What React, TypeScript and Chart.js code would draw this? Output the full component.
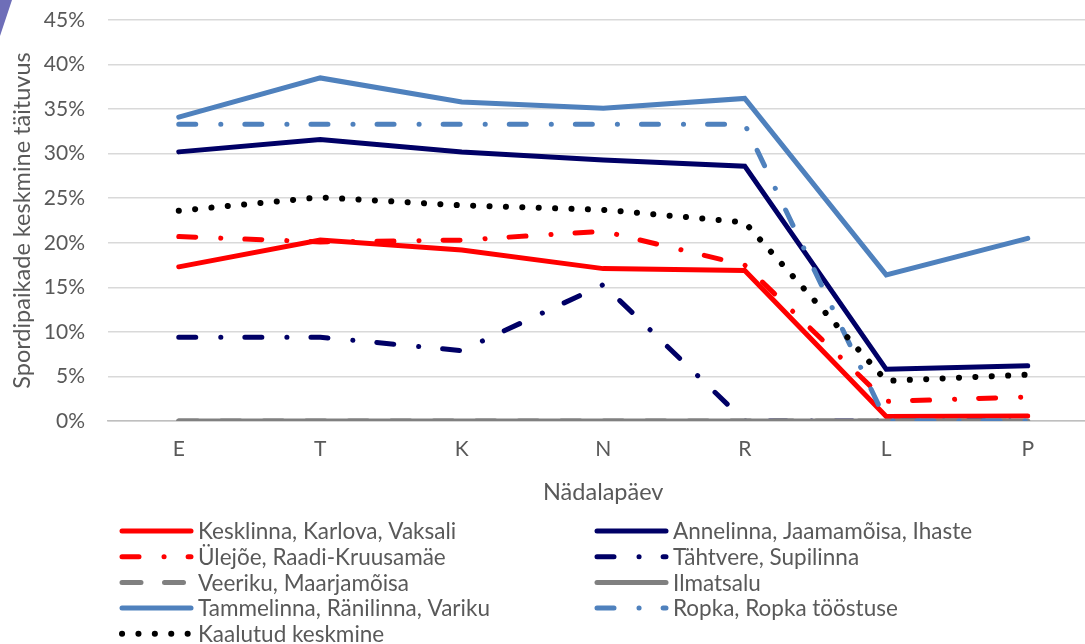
import React, { useEffect, useRef } from "react";
import { Chart, registerables } from "chart.js";

Chart.register(...registerables);

const days = ["E", "T", "K", "N", "R", "L", "P"];
const yTicksMax = 45;
const yTickStep = 5;

const kesklinna = [17.3, 20.3, 19.2, 17.1, 16.9, 0.5, 0.55];
const annelinna = [30.2, 31.6, 30.2, 29.3, 28.6, 5.8, 6.2];
const ulejoe = [20.7, 20.1, 20.3, 21.3, 17.5, 2.2, 2.7];
const tahtvere = [9.4, 9.4, 7.9, 15.3, 0, 0, 0];
const veeriku = [0, 0, 0, 0, 0, 0, 0];
const ilmatsalu = [0, 0, 0, 0, 0, 0, 0];
const tammelinna = [34.1, 38.5, 35.8, 35.1, 36.2, 16.4, 20.5];
const ropka = [33.3, 33.3, 33.3, 33.3, 33.3, 0, 0];
const kaalutud = [23.6, 25.1, 24.2, 23.7, 22.3, 4.5, 5.2];

const seriesNames = [
  "Kesklinna, Karlova, Vaksali",
  "Annelinna, Jaamamõisa, Ihaste",
  "Ülejõe, Raadi-Kruusamäe",
  "Tähtvere, Supilinna",
  "Veeriku, Maarjamõisa",
  "Ilmatsalu",
  "Tammelinna, Ränilinna, Variku",
  "Ropka, Ropka tööstuse",
  "Kaalutud keskmine",
];

const xTitle = "Nädalapäev";
const yTitle = "Spordipaikade keskmine täituvus";

const RED = "#FF0000";
const NAVY = "#000066";
const GRAY = "#808080";
const LBLUE = "#4F81BD";
const BLACK = "#000000";
const TEXT = "#595959";
const FONT = "Lato, 'Open Sans', sans-serif";

const DASHDOT = [17, 25, 0.1, 24];
const DASH = [19, 23.5];
const DOT = [0.1, 16.3];

const legendPlugin = {
  id: "customLegend",
  afterDraw(chart: any) {
    const ctx = chart.ctx;
    const ds = chart.data.datasets;
    const cols = [120, 595];
    const rowY0 = 531;
    const rowH = 25.7;
    ctx.save();
    ds.forEach((d: any, i: number) => {
      const col = i % 2;
      const row = Math.floor(i / 2);
      const x0 = cols[col];
      const y = rowY0 + row * rowH;
      ctx.beginPath();
      ctx.setLineDash(d.borderDash || []);
      ctx.lineDashOffset = 0;
      ctx.lineCap = "round";
      ctx.strokeStyle = d.borderColor;
      ctx.lineWidth = d.borderWidth;
      ctx.moveTo(x0 + 2, y);
      ctx.lineTo(x0 + 71, y);
      ctx.stroke();
      ctx.setLineDash([]);
      ctx.fillStyle = TEXT;
      ctx.font = `22.5px ${FONT}`;
      ctx.textBaseline = "middle";
      ctx.textAlign = "left";
      ctx.fillText(d.label, x0 + 78, y + 1);
    });
    ctx.restore();
  },
};

export default function App() {
  const ref = useRef<HTMLCanvasElement | null>(null);

  useEffect(() => {
    document.body.style.margin = "0";
    document.body.style.overflow = "hidden";
    const canvas = ref.current;
    if (!canvas) return;
    const values = [kesklinna, annelinna, ulejoe, tahtvere, veeriku, ilmatsalu, tammelinna, ropka, kaalutud];
    const colors = [RED, NAVY, RED, NAVY, GRAY, GRAY, LBLUE, LBLUE, BLACK];
    const dashes = [[], [], DASHDOT, DASHDOT, DASH, [], [], DASHDOT, DOT];
    const widths = [5, 5, 5, 5, 5, 5, 5, 5, 6];
    const n = values.length;
    const chart = new Chart(canvas, {
      type: "line",
      data: {
        labels: days,
        datasets: values.map((v, i) => ({
          label: seriesNames[i],
          data: v,
          borderColor: colors[i],
          backgroundColor: colors[i],
          borderWidth: widths[i],
          borderDash: dashes[i],
          borderCapStyle: "round",
          borderJoinStyle: "miter",
          pointRadius: 0,
          tension: 0,
          fill: false,
          order: n - i,
        })),
      },
      options: {
        responsive: false,
        animation: false,
        layout: { padding: { top: 20, right: 1.5, bottom: 134, left: 0 } },
        plugins: { legend: { display: false }, tooltip: { enabled: false } },
        scales: {
          x: {
            type: "category",
            offset: true,
            grid: { display: false, drawTicks: false },
            border: { display: true, color: "#BFBFBF", width: 1.5 },
            ticks: { color: TEXT, font: { family: FONT, size: 21 }, padding: 16 },
            title: {
              display: true,
              text: xTitle,
              color: TEXT,
              font: { family: FONT, size: 23.5 },
              padding: { top: 0, bottom: 3 },
            },
            afterFit(scale: any) {
              scale.height = 89;
              scale.paddingLeft = 0;
              scale.paddingRight = 0;
            },
          },
          y: {
            min: 0,
            max: yTicksMax,
            grid: { color: "#D9D9D9", lineWidth: 1.5, drawTicks: false },
            border: { display: false },
            ticks: {
              stepSize: yTickStep,
              color: TEXT,
              font: { family: FONT, size: 21 },
              padding: 23,
              callback: (v: any) => `${v}%`,
            },
            title: {
              display: true,
              text: yTitle,
              color: TEXT,
              font: { family: FONT, size: 23.5 },
              padding: { top: 8, bottom: 0 },
            },
            afterFit(scale: any) {
              scale.width = 108;
              scale.paddingTop = 0;
              scale.paddingBottom = 0;
            },
          },
        },
      },
      plugins: [legendPlugin],
    });
    return () => chart.destroy();
  }, []);

  return (
    <div style={{ position: "relative", width: 1085, height: 644, overflow: "hidden", background: "#fff" }}>
      <canvas ref={ref} width={1100} height={644} style={{ position: "absolute", left: 0, top: 0, width: 1100, height: 644 }} />
      <svg width={20} height={40} style={{ position: "absolute", left: 0, top: 0 }}>
        <polygon points="0,0 12,0 0,36" fill="#6E6EB8" />
      </svg>
    </div>
  );
}
